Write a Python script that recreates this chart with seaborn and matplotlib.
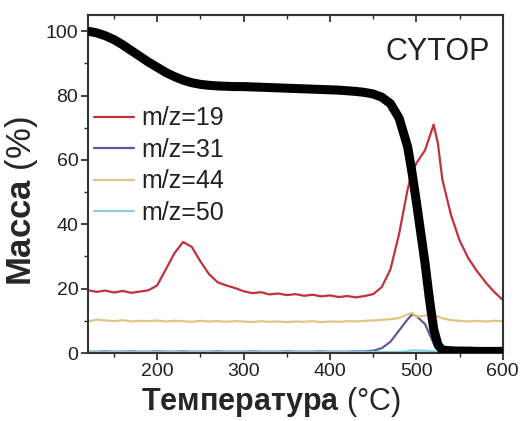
import numpy as np
import pandas as pd
import matplotlib
matplotlib.use("Agg")
import matplotlib.pyplot as plt
from matplotlib.ticker import MultipleLocator
import seaborn as sns

# температура, °C
TEMP = [120, 130, 140, 150, 160, 170, 180, 190, 200, 210, 220, 230, 240, 250,
        260, 270, 280, 290, 300, 310, 320, 330, 340, 350, 360, 370, 380, 390,
        400, 410, 420, 430, 440, 450, 460, 470, 480, 490, 495, 500, 510, 515,
        520, 525, 530, 540, 550, 560, 570, 580, 590, 600]

# масса (ТГА), %
MASS = [100.0, 99.5, 98.6, 97.4, 95.8, 94.0, 92.2, 90.4, 88.8, 87.2, 85.9, 84.8,
        84.0, 83.5, 83.2, 83.0, 82.9, 82.8, 82.8, 82.7, 82.6, 82.5, 82.4, 82.3,
        82.2, 82.1, 82.0, 81.9, 81.8, 81.7, 81.5, 81.3, 81.0, 80.5, 79.5, 77.5,
        73.0, 64.0, 56.0, 47.0, 28.0, 17.0, 7.5, 2.5, 0.9, 0.7, 0.6, 0.6, 0.5,
        0.5, 0.5, 0.5]

MZ19 = [19.5, 19.0, 19.4, 18.8, 19.3, 18.7, 19.1, 19.5, 21.0, 26.0, 31.0, 34.5,
        33.0, 28.5, 24.5, 22.0, 21.0, 20.2, 19.2, 18.6, 18.9, 18.2, 18.5, 18.0,
        18.3, 17.8, 18.1, 17.6, 17.9, 17.4, 17.7, 17.3, 17.7, 18.3, 20.5, 26.0,
        37.0, 51.0, 56.0, 59.0, 63.0, 67.0, 71.0, 65.0, 54.0, 43.0, 35.0, 29.5,
        25.5, 22.0, 19.0, 16.5]

MZ31 = [0.4, 0.4, 0.5, 0.4, 0.4, 0.5, 0.4, 0.4, 0.5, 0.4, 0.4, 0.5, 0.4, 0.4,
        0.4, 0.5, 0.4, 0.4, 0.4, 0.5, 0.4, 0.4, 0.4, 0.5, 0.4, 0.4, 0.4, 0.5,
        0.4, 0.4, 0.4, 0.5, 0.5, 0.7, 1.5, 3.5, 7.0, 10.5, 12.0, 11.5, 9.0, 6.0,
        3.0, 1.2, 0.6, 0.4, 0.4, 0.4, 0.4, 0.4, 0.4, 0.4]

MZ44 = [9.8, 10.4, 10.1, 9.9, 10.2, 9.8, 10.0, 9.9, 10.1, 9.8, 10.0, 9.9, 9.7,
        10.0, 9.8, 9.9, 9.7, 9.9, 9.8, 9.6, 9.9, 9.7, 9.8, 9.6, 9.8, 9.7, 9.9,
        9.6, 9.8, 9.7, 9.9, 9.8, 10.0, 10.1, 10.3, 10.5, 10.9, 12.0, 12.5, 11.3,
        11.6, 12.3, 12.0, 11.3, 10.8, 10.2, 10.0, 9.8, 10.0, 9.8, 10.0, 9.9]

MZ50 = [0.3] * 37 + [0.6, 0.8, 0.8, 0.7, 0.6, 0.5] + [0.3] * 9

SERIES = [("m/z=19", MZ19, "#c0323c"), ("m/z=31", MZ31, "#5e5a9e"),
          ("m/z=44", MZ44, "#e2c48a"), ("m/z=50", MZ50, "#86cfe6")]

sns.set_theme(style="ticks")
plt.rcParams["font.family"] = ["Liberation Sans", "DejaVu Sans"]
plt.rcParams["mathtext.fontset"] = "custom"
plt.rcParams["mathtext.bf"] = "Liberation Sans:bold"
plt.rcParams["mathtext.rm"] = "Liberation Sans"

fig = plt.figure(figsize=(5.21, 4.21), dpi=100)
ax = fig.add_axes([0.169, 0.1615, 0.796, 0.8025])

for name, vals, col in SERIES:
    df = pd.DataFrame({"T": TEMP, "v": vals})
    sns.lineplot(data=df, x="T", y="v", color=col, lw=1.6, label=name, ax=ax)

df_m = pd.DataFrame({"T": TEMP, "m": MASS})
sns.lineplot(data=df_m, x="T", y="m", color="black", lw=6.5, ax=ax,
             solid_capstyle="round", zorder=5)

ax.set_xlim(120, 600)
ax.set_ylim(0, 105)
ax.xaxis.set_major_locator(MultipleLocator(100))
ax.xaxis.set_minor_locator(MultipleLocator(50))
ax.yaxis.set_major_locator(MultipleLocator(20))
ax.yaxis.set_minor_locator(MultipleLocator(10))
ax.tick_params(axis="both", which="major", labelsize=14, length=5, width=1.2,
               colors="#222222", pad=2)
ax.tick_params(axis="both", which="minor", length=3, width=1.0)

# верхняя ось: засечки внутрь, без подписей
top = ax.secondary_xaxis("top")
top.xaxis.set_major_locator(MultipleLocator(100))
top.xaxis.set_minor_locator(MultipleLocator(50))
top.tick_params(which="major", direction="in", length=5, width=1.2,
                labeltop=False, colors="#222222")
top.tick_params(which="minor", direction="in", length=3, width=1.0)
top.spines["top"].set_linewidth(1.5)
top.spines["top"].set_color("#333333")

for sp in ax.spines.values():
    sp.set_linewidth(1.5)
    sp.set_color("#333333")

ax.set_xlabel(r"$\mathbf{Температура}$ (°C)", fontsize=22, labelpad=2)
ax.xaxis.set_label_coords(0.44, -0.095)
ax.set_ylabel(r"$\mathbf{Масса}$ (%)", fontsize=25, labelpad=4)
ax.yaxis.set_label_coords(-0.115, 0.45)
ax.text(0.97, 0.89, "CYTOP", transform=ax.transAxes, ha="right", va="center",
        fontsize=22, color="#222222")

leg = ax.legend(loc="upper left", bbox_to_anchor=(0.015, 0.73), frameon=False,
                fontsize=18, handlelength=1.6, handletextpad=0.3,
                labelspacing=0.3, borderaxespad=0, borderpad=0)
for t in leg.get_texts():
    t.set_color("#222222")

fig.savefig("out.png", dpi=100)
